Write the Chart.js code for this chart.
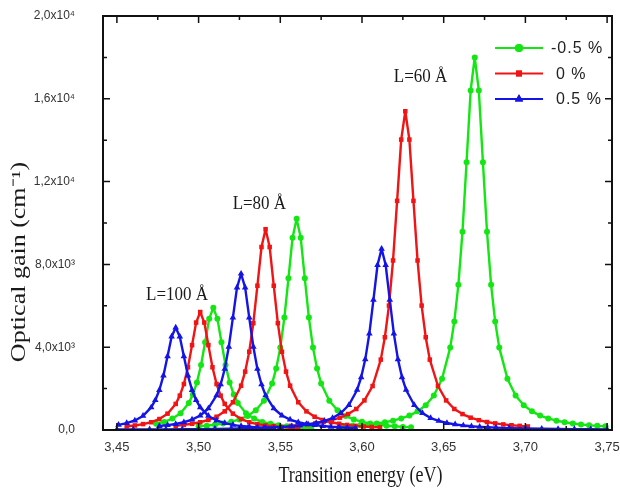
<!DOCTYPE html>
<html>
<head>
<meta charset="utf-8">
<script src="https://cdn.jsdelivr.net/npm/chart.js@4.4.1/dist/chart.umd.min.js"></script>
<style>
html, body { margin: 0; padding: 0; background: #fff; }
#grafica { display: block; }
</style>
</head>
<body>
<canvas id="grafica" width="620" height="494"></canvas>
<script>
// valores (energia en eV, ganancia en cm-1)
var energia_verde_100 = [3.474,3.479,3.484,3.489,3.494,3.4965,3.499,3.5015,3.504,3.5065,3.509,3.5115,3.514,3.5165,3.519,3.5215,3.524,3.529,3.534,3.539,3.544,3.549,3.554,3.559,3.564,3.569]
var ganancia_verde_100 = [300,390,550,810,1300,1720,2300,3140,4240,5380,5900,5380,4240,3140,2300,1720,1300,810,550,390,300,230,180,150,120,100]

var energia_verde_80 = [3.50,3.505,3.51,3.515,3.52,3.525,3.53,3.535,3.54,3.545,3.5475,3.55,3.5525,3.555,3.5575,3.56,3.5625,3.565,3.5675,3.57,3.5725,3.575,3.58,3.585,3.59,3.595,3.60,3.605,3.61,3.615,3.62,3.625,3.63]
var ganancia_verde_80 = [180,210,255,315,395,510,675,950,1410,2250,2970,3980,5430,7330,9290,10200,9290,7330,5430,3980,2970,2250,1410,950,675,510,395,315,255,210,180,150,130]

var energia_verde_60 = [3.589,3.594,3.599,3.604,3.609,3.614,3.619,3.624,3.629,3.634,3.639,3.644,3.649,3.654,3.6565,3.659,3.6615,3.664,3.6665,3.669,3.6715,3.674,3.6765,3.679,3.6815,3.684,3.689,3.694,3.699,3.704,3.709,3.714,3.719,3.724,3.729,3.734,3.739,3.744,3.749]
var ganancia_verde_60 = [180,200,230,270,315,375,450,560,695,900,1195,1670,2480,3980,5240,7020,9580,12940,16400,18000,16400,12940,9580,7020,5240,3980,2480,1670,1195,900,695,560,450,375,315,270,230,200,180]

var energia_rojo_100 = [3.456,3.461,3.466,3.471,3.476,3.481,3.486,3.4885,3.491,3.4935,3.496,3.4985,3.501,3.5035,3.506,3.5085,3.511,3.5135,3.516,3.521,3.526,3.531,3.536,3.541,3.546,3.551,3.556,3.561]
var ganancia_rojo_100 = [180,220,285,375,530,790,1260,1660,2220,3030,4100,5190,5700,5190,4100,3030,2220,1660,1260,790,530,375,285,220,180,145,120,100]

var energia_rojo_80 = [3.486,3.491,3.496,3.501,3.506,3.511,3.516,3.521,3.526,3.5285,3.531,3.5335,3.536,3.5385,3.541,3.5435,3.546,3.5485,3.551,3.5535,3.556,3.561,3.566,3.571,3.576,3.581,3.586,3.591,3.596,3.601,3.606,3.611]
var ganancia_rojo_80 = [200,245,300,375,485,640,900,1340,2140,2820,3780,5160,6970,8840,9700,8840,6970,5160,3780,2820,2140,1340,900,640,485,375,300,245,200,170,145,125]

var energia_rojo_60 = [3.5565,3.5615,3.5665,3.5715,3.5765,3.5815,3.5865,3.5915,3.5965,3.6015,3.6065,3.6115,3.614,3.6165,3.619,3.6215,3.624,3.6265,3.629,3.6315,3.634,3.6365,3.639,3.6415,3.6465,3.6515,3.6565,3.6615,3.6665,3.6715,3.6765,3.6815,3.6865,3.6915,3.6965,3.7015]
var ganancia_rojo_60 = [200,230,270,320,385,475,595,770,1015,1430,2125,3400,4480,6010,8190,11070,14030,15400,14030,11070,8190,6010,4480,3400,2125,1430,1015,770,595,475,385,320,270,230,200,170]

var energia_azul_100 = [3.451,3.456,3.461,3.466,3.471,3.4735,3.476,3.4785,3.481,3.4835,3.486,3.4885,3.491,3.4935,3.496,3.4985,3.501,3.506,3.511,3.516,3.521,3.526,3.531,3.536,3.541,3.546]
var ganancia_azul_100 = [250,330,460,680,1090,1440,1930,2630,3560,4510,4950,4510,3560,2630,1930,1440,1090,680,460,330,250,190,155,125,100,85]

var energia_azul_80 = [3.476,3.481,3.486,3.491,3.496,3.501,3.506,3.511,3.5135,3.516,3.5185,3.521,3.5235,3.526,3.5285,3.531,3.5335,3.536,3.5385,3.541,3.546,3.551,3.556,3.561,3.566,3.571,3.576,3.581,3.586,3.591,3.596]
var ganancia_azul_80 = [190,235,290,375,500,700,1040,1670,2200,2950,4020,5430,6880,7550,6880,5430,4020,2950,2200,1670,1040,700,500,375,290,235,190,155,130,110,95]

var energia_azul_60 = [3.45,3.46,3.47,3.48,3.49,3.50,3.51,3.52,3.53,3.54,3.55,3.557,3.562,3.567,3.572,3.577,3.582,3.587,3.592,3.597,3.5995,3.602,3.6045,3.607,3.6095,3.612,3.6145,3.617,3.6195,3.622,3.6245,3.627,3.632,3.637,3.642,3.647,3.652,3.657,3.662,3.667,3.672,3.677,3.682,3.69,3.70,3.71,3.72,3.73,3.74,3.75]
var ganancia_azul_60 = [21,24,28,32,37,44,53,66,83,107,143,181,219,271,337,438,578,814,1208,1934,2546,3413,4655,6291,7971,8750,7971,6291,4655,3413,2546,1934,1208,814,578,438,337,271,219,181,153,130,113,91,72,58,48,40,34,29]

var series = ["-0.5 %", "0 %", "0.5 %"]
var etiquetas_x = ["3,45","3,50","3,55","3,60","3,65","3,70","3,75"]
var etiquetas_y = ["0,0","4,0x10\u00B3","8,0x10\u00B3","1,2x10\u2074","1,6x10\u2074","2,0x10\u2074"]
var anotaciones = [
    { texto: "L=100 \u00C5", x: 3.4868, y: 6500 },
    { texto: "L=80 \u00C5", x: 3.5372, y: 10900 },
    { texto: "L=60 \u00C5", x: 3.6358, y: 17050 }
]

var verde = "#14e614", rojo = "#f01414", azul = "#1414e6"
var estilos = [
    { color: verde, punto: "circle", radio: 3 },
    { color: rojo, punto: "rect", radio: 3.2 },
    { color: azul, punto: "triangle", radio: 3.8 }
]

function juntar(xs, ys) {
    return xs.map(function (x, i) { return { x: x, y: ys[i] } })
}

var curvas = [
    [0, energia_verde_100, ganancia_verde_100], [0, energia_verde_80, ganancia_verde_80], [0, energia_verde_60, ganancia_verde_60],
    [1, energia_rojo_100, ganancia_rojo_100], [1, energia_rojo_80, ganancia_rojo_80], [1, energia_rojo_60, ganancia_rojo_60],
    [2, energia_azul_100, ganancia_azul_100], [2, energia_azul_80, ganancia_azul_80], [2, energia_azul_60, ganancia_azul_60]
]

var conjuntos = curvas.map(function (c) {
    var e = estilos[c[0]]
    return {
        label: series[c[0]],
        data: juntar(c[1], c[2]),
        showLine: true,
        borderColor: e.color,
        backgroundColor: e.color,
        borderWidth: 2.4,
        borderJoinStyle: "round",
        pointStyle: e.punto,
        pointRadius: e.radio,
        pointBorderWidth: 0,
        pointBackgroundColor: e.color,
        tension: 0,
        order: 2 - c[0]
    }
})

function texto_estirado(ctx, s, x, y, fuente, estira, angulo) {
    ctx.save()
    ctx.translate(x, y)
    ctx.scale(1, estira)
    if (angulo) ctx.rotate(angulo)
    ctx.font = fuente
    ctx.textAlign = "center"
    ctx.textBaseline = "middle"
    ctx.fillText(s, 0, 0)
    ctx.restore()
}

var marco_y_textos = {
    id: "marco_y_textos",
    afterDatasetsDraw: function (chart) {
        var ctx = chart.ctx, a = chart.chartArea
        var ex = chart.scales.x, ye = chart.scales.y
        ctx.save()
        ctx.strokeStyle = "#111"
        ctx.lineWidth = 2
        ctx.strokeRect(a.left, a.top, a.right - a.left, a.bottom - a.top)
        ctx.lineWidth = 1.5
        ctx.beginPath()
        var tx = ex.ticks.map(function (t) { return t.value })
        tx.forEach(function (v, i) {
            var p = ex.getPixelForValue(v)
            ctx.moveTo(p, a.bottom); ctx.lineTo(p, a.bottom - 7)
            ctx.moveTo(p, a.top); ctx.lineTo(p, a.top + 7)
            if (i < tx.length - 1) {
                var m = ex.getPixelForValue((v + tx[i + 1]) / 2)
                ctx.moveTo(m, a.bottom); ctx.lineTo(m, a.bottom - 4)
                ctx.moveTo(m, a.top); ctx.lineTo(m, a.top + 4)
            }
        })
        var ty = ye.ticks.map(function (t) { return t.value })
        ty.forEach(function (v, i) {
            var p = ye.getPixelForValue(v)
            ctx.moveTo(a.left, p); ctx.lineTo(a.left + 7, p)
            ctx.moveTo(a.right, p); ctx.lineTo(a.right - 7, p)
            if (i < ty.length - 1) {
                var m = ye.getPixelForValue((v + ty[i + 1]) / 2)
                ctx.moveTo(a.left, m); ctx.lineTo(a.left + 4, m)
                ctx.moveTo(a.right, m); ctx.lineTo(a.right - 4, m)
            }
        })
        ctx.stroke()
        ctx.restore()
    },
    afterDraw: function (chart) {
        var ctx = chart.ctx, a = chart.chartArea
        var ex = chart.scales.x, ye = chart.scales.y
        ctx.save()
        ctx.fillStyle = "#1a1a1a"
        // titulos de ejes
        texto_estirado(ctx, "Transition energy (eV)", (a.left + a.right) / 2 + 3, 476, "18px 'Liberation Serif'", 1.25, 0)
        texto_estirado(ctx, "Optical gain (cm\u207B\u00B9)", 20, 262, "20px 'Liberation Serif'", 1.3, -Math.PI / 2)
        // anotaciones
        anotaciones.forEach(function (n) {
            texto_estirado(ctx, n.texto, ex.getPixelForValue(n.x), ye.getPixelForValue(n.y), "17px 'Liberation Serif'", 1.1, 0)
        })
        // leyenda
        var x0 = 495, x1 = 543, y0 = 48, paso = 25.5
        series.forEach(function (s, i) {
            var e = estilos[i], yy = y0 + i * paso
            ctx.strokeStyle = e.color
            ctx.fillStyle = e.color
            ctx.lineWidth = 2
            ctx.beginPath(); ctx.moveTo(x0, yy); ctx.lineTo(x1, yy); ctx.stroke()
            Chart.helpers.drawPoint(ctx, { pointStyle: e.punto, radius: e.radio + 1, rotation: 0, borderWidth: 0 }, (x0 + x1) / 2, yy)
            ctx.fill()
            ctx.fillStyle = "#222"
            ctx.font = "16px 'Liberation Sans'"
            ctx.letterSpacing = "1px"
            ctx.textAlign = "left"
            ctx.textBaseline = "middle"
            ctx.fillText(s, i == 0 ? 551 : 556, yy + 1)
        })
        ctx.restore()
    }
}

var grafica = new Chart(document.getElementById("grafica"), {
    type: "scatter",
    data: { datasets: conjuntos },
    options: {
        responsive: false,
        animation: false,
        devicePixelRatio: 1,
        layout: { padding: { top: 16, right: 8, left: 0, bottom: 0 } },
        plugins: { legend: { display: false }, tooltip: { enabled: false } },
        scales: {
            x: {
                type: "linear", min: 3.4415, max: 3.753,
                grid: { display: false, drawTicks: false },
                border: { display: false },
                ticks: {
                    stepSize: 0.05, includeBounds: false, autoSkip: false, maxRotation: 0, padding: 10,
                    color: "#333", font: { family: "'Liberation Sans'", size: 13 },
                    callback: function (v) { return etiquetas_x[Math.round((v - 3.45) / 0.05)] }
                },
                afterFit: function (s) { s.height = 64; s.paddingLeft = 0; s.paddingRight = 0 }
            },
            y: {
                min: 0, max: 20000,
                grid: { display: false, drawTicks: false },
                border: { display: false },
                ticks: {
                    stepSize: 4000, padding: 28,
                    color: "#333", font: { family: "'Liberation Sans'", size: 12 },
                    callback: function (v) { return etiquetas_y[Math.round(v / 4000)] }
                },
                afterFit: function (s) { s.width = 103; s.paddingTop = 0; s.paddingBottom = 0 }
            }
        }
    },
    plugins: [marco_y_textos]
})
</script>
</body>
</html>
